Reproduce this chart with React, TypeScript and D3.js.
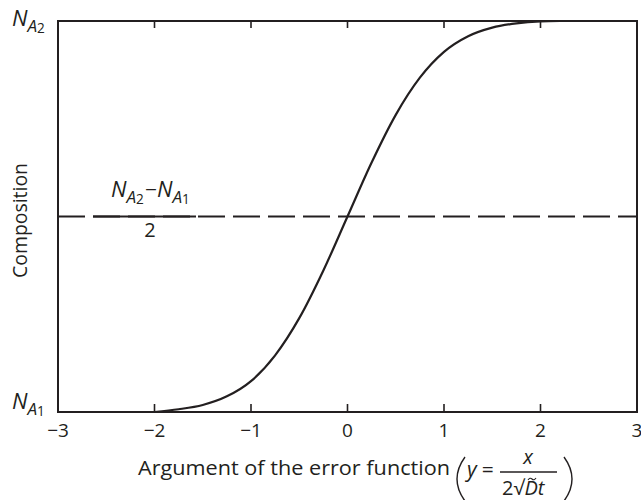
import React from "react";
import * as d3 from "d3";

// Argument of the error function (x axis) and normalised composition (0 = N_A1, 1 = N_A2)
const argValues = [-2, -1.75, -1.5, -1.25, -1, -0.75, -0.5, -0.25, 0, 0.25, 0.5, 0.75, 1, 1.25, 1.5, 1.75, 2, 2.2];
const composition = [0, 0.007, 0.018, 0.04, 0.079, 0.145, 0.24, 0.362, 0.5, 0.638, 0.76, 0.855, 0.921, 0.961, 0.983, 0.994, 0.999, 1];

const xTickValues = [-3, -2, -1, 0, 1, 2, 3];
const innerTickValues = [-2, -1, 0, 1, 2];
const midLevel = 0.5;

const W = 641;
const H = 500;
const FONT = "'Open Sans', 'Noto Sans', sans-serif";
const INK = "#231f20";

// N with subscript A and sub-subscript index, as tspans
function nParts(sub: string, size: number, key: string) {
  return [
    <tspan key={key + "n"} fontStyle="italic" fontSize={size}>N</tspan>,
    <tspan key={key + "a"} fontStyle="italic" fontSize={size * 0.78} dy={size * 0.25}>A</tspan>,
    <tspan key={key + "s"} fontSize={size * 0.62} dy={size * 0.08}>{sub}</tspan>,
  ];
}

export default function App() {
  const x = d3.scaleLinear().domain([-3, 3]).range([58, 637]);
  const y = d3.scaleLinear().domain([0, 1]).range([412, 21]);

  const pts: [number, number][] = argValues.map((a, i) => [a, composition[i]]);
  const line = d3
    .line<[number, number]>()
    .x((d) => x(d[0]))
    .y((d) => y(d[1]))
    .curve(d3.curveMonotoneX);

  const yMid = y(midLevel);
  const [x0, x1] = x.range();
  const [yb, yt] = y.range();
  const ns = 22;

  return (
    <svg
      width={W}
      height={H}
      style={{ position: "absolute", left: 0, top: 0, background: "#fff" }}
      fontFamily={FONT}
    >
      {/* dashed midpoint level */}
      <line x1={x0} x2={x1} y1={yMid} y2={yMid} stroke={INK} strokeWidth={2} strokeDasharray="27 8" />

      {/* frame */}
      <rect x={x0} y={yt} width={x1 - x0} height={yb - yt} fill="none" stroke={INK} strokeWidth={2} />

      {/* inward ticks, bottom and top */}
      {innerTickValues.map((v) => (
        <g key={v}>
          <line x1={x(v)} x2={x(v)} y1={yb} y2={yb - 8} stroke={INK} strokeWidth={1.6} />
          <line x1={x(v)} x2={x(v)} y1={yt} y2={yt + 7} stroke={INK} strokeWidth={1.6} />
        </g>
      ))}

      {/* tick labels */}
      {xTickValues.map((v) => (
        <text key={v} x={x(v)} y={437} fontSize={19} textAnchor="middle" fill={INK}>
          {v < 0 ? "\u2212" + Math.abs(v) : String(v)}
        </text>
      ))}

      {/* error-function curve */}
      <path d={line(pts) || ""} fill="none" stroke={INK} strokeWidth={2.2} />

      {/* y-axis level labels */}
      <text x={12} y={26} fill={INK}>{nParts("2", ns, "t")}</text>
      <text x={12} y={409} fill={INK}>{nParts("1", ns, "b")}</text>

      {/* (N_A2 − N_A1) / 2 label */}
      <text x={111} y={197} fill={INK}>
        {nParts("2", ns, "p")}
        <tspan fontSize={21} dy={-ns * 0.33} dx={1}>{"\u2212"}</tspan>
        {nParts("1", ns, "q")}
      </text>
      <line x1={93} x2={196} y1={yMid} y2={yMid} stroke={INK} strokeWidth={2} />
      <text x={150} y={237} fill={INK} fontSize={20} textAnchor="middle">2</text>

      {/* y axis title */}
      <text
        transform={`translate(27, ${(yb + yt) / 2 + 4}) rotate(-90)`}
        textAnchor="middle"
        fontSize={20}
        textLength={115}
        lengthAdjust="spacingAndGlyphs"
        fill={INK}
      >
        Composition
      </text>

      {/* x axis title with formula */}
      <text x={138} y={475} fontSize={20} textLength={312} lengthAdjust="spacingAndGlyphs" fill={INK}>
        Argument of the error function
      </text>
      <path d="M 465 457 Q 449 479 465 501" fill="none" stroke={INK} strokeWidth={1.4} />
      <text x={467} y={477} fontSize={21} fill={INK}>
        <tspan fontStyle="italic">y</tspan>
        <tspan dx={5}>=</tspan>
      </text>
      <text x={528} y={464} fontSize={20} fontStyle="italic" fill={INK} textAnchor="middle">x</text>
      <line x1={500} x2={557} y1={472} y2={472} stroke={INK} strokeWidth={1.3} />
      <text x={502} y={495} fontSize={20} fill={INK}>
        <tspan>2</tspan>
        <tspan>{"\u221A"}</tspan>
        <tspan fontStyle="italic">D</tspan>
        <tspan fontStyle="italic">t</tspan>
      </text>
      {/* tilde over D */}
      <path d="M 528 480 q 2 -3 4 -1 q 2 2 4 -1" fill="none" stroke={INK} strokeWidth={1.1} />
      <path d="M 564 457 Q 580 479 564 501" fill="none" stroke={INK} strokeWidth={1.4} />
    </svg>
  );
}
